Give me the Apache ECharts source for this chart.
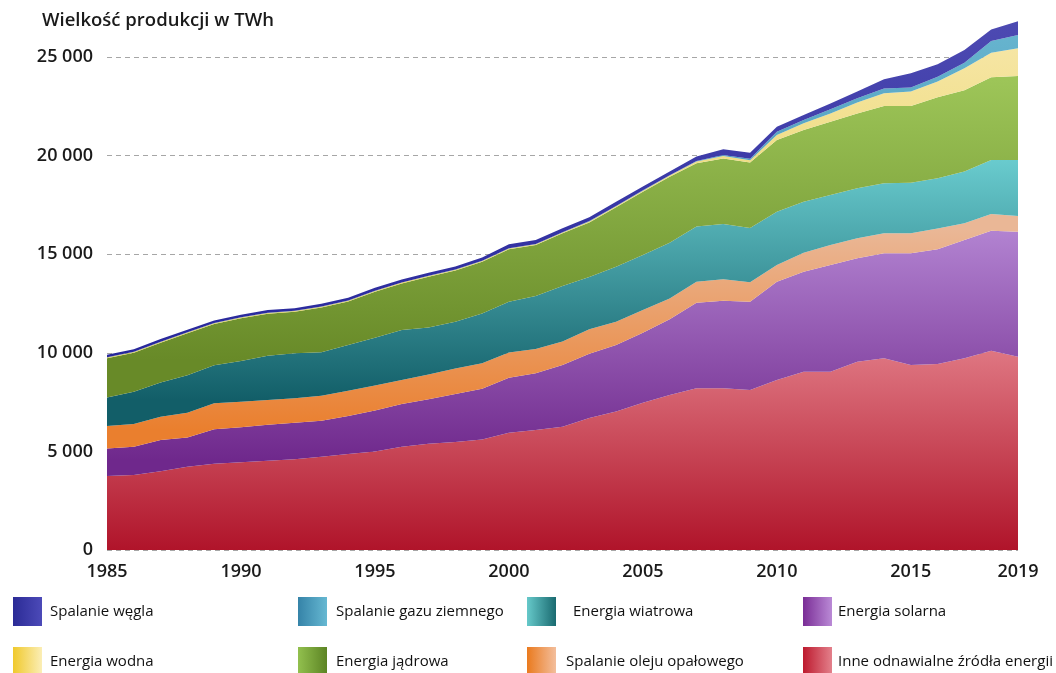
<!DOCTYPE html>
<html lang="pl">
<head>
<meta charset="utf-8">
<title>Wielkość produkcji energii elektrycznej</title>
<script src="https://cdn.jsdelivr.net/npm/echarts@6/dist/echarts.min.js"></script>
<style>
  html, body { margin: 0; padding: 0; background: #ffffff; }
  #chart { width: 1056px; height: 673px; }
</style>
</head>
<body>
<div id="chart"></div>
<script>
// Lata na osi X
const years = ['1985','1986','1987','1988','1989','1990','1991','1992','1993','1994',
  '1995','1996','1997','1998','1999','2000','2001','2002','2003','2004',
  '2005','2006','2007','2008','2009','2010','2011','2012','2013','2014',
  '2015','2016','2017','2018','2019'];

// Produkcja wg źródła (TWh), warstwy od dołu do góry
const inne = [3750,3800,4000,4220,4380,4450,4520,4600,4730,4870,
  5000,5240,5390,5480,5610,5950,6090,6250,6700,7020,
  7470,7860,8200,8200,8110,8620,9040,9040,9550,9720,
  9380,9430,9720,10110,9800];
const solarna = [1400,1440,1580,1490,1740,1770,1830,1850,1820,1930,
  2080,2160,2260,2430,2570,2790,2870,3130,3250,3380,
  3550,3840,4340,4440,4480,4990,5070,5410,5240,5330,
  5670,5820,6000,6080,6340];
const olej = [1140,1150,1180,1250,1320,1300,1260,1250,1270,1280,
  1260,1220,1250,1300,1290,1270,1230,1200,1250,1180,
  1150,1060,1070,1090,990,840,970,1020,1020,1010,
  1010,1060,850,850,800];
const wiatrowa = [1450,1640,1730,1900,1930,2060,2240,2280,2210,2320,
  2430,2540,2380,2370,2530,2580,2690,2810,2640,2790,
  2790,2820,2790,2800,2750,2710,2580,2530,2530,2540,
  2570,2540,2620,2740,2840];
const jadrowa = [1980,1970,2020,2130,2090,2170,2130,2100,2270,2200,
  2330,2360,2580,2590,2620,2660,2590,2670,2770,3010,
  3210,3350,3210,3330,3320,3630,3640,3720,3800,3920,
  3890,4110,4130,4190,4260];
const wodna = [40,40,40,40,40,40,40,40,40,40,
  40,40,40,40,40,40,40,40,50,50,
  50,60,90,120,110,250,340,420,550,640,
  730,800,1110,1250,1400];
const gaz = [10,10,10,10,10,10,10,10,10,10,
  10,10,10,10,10,10,10,10,20,20,
  20,20,30,50,80,170,170,210,220,250,
  200,240,280,590,680];
const wegiel = [130,130,135,135,135,135,135,135,135,140,
  145,145,150,155,170,200,200,210,190,210,
  190,180,220,290,300,260,250,300,340,460,
  730,630,650,590,690];

// Tytuł osi i etykiety serii
const axisTitle = 'Wielkość produkcji w TWh';
const names = {
  inne: 'Inne odnawialne źródła energii',
  solarna: 'Energia solarna',
  olej: 'Spalanie oleju opałowego',
  wiatrowa: 'Energia wiatrowa',
  jadrowa: 'Energia jądrowa',
  wodna: 'Energia wodna',
  gaz: 'Spalanie gazu ziemnego',
  wegiel: 'Spalanie węgla'
};

const chart = echarts.init(document.getElementById('chart'), null, { renderer: 'canvas' });
const G = echarts.graphic.LinearGradient;

// Pionowy gradient w układzie współrzędnych płótna: jaśniej u góry, ciemniej u dołu
function vgrad(yTop, yBot, cTop, cBot) {
  return new G(0, yTop, 0, yBot, [{ offset: 0, color: cTop }, { offset: 1, color: cBot }], true);
}
function hgrad(cLeft, cRight) {
  return new G(0, 0, 1, 0, [{ offset: 0, color: cLeft }, { offset: 1, color: cRight }]);
}

const layers = [
  { key: 'inne',     data: inne,     fill: vgrad(350, 550, '#df7782', '#b0142a') },
  { key: 'solarna',  data: solarna,  fill: vgrad(230, 460, '#b283d1', '#6f288c') },
  { key: 'olej',     data: olej,     fill: vgrad(230, 430, '#eab796', '#ea7f2e') },
  { key: 'wiatrowa', data: wiatrowa, fill: vgrad(160, 400, '#69cbce', '#125e68') },
  { key: 'jadrowa',  data: jadrowa,  fill: vgrad(80, 360, '#9dc558', '#688a28') },
  { key: 'wodna',    data: wodna,    fill: vgrad(40, 360, '#f6e6a6', '#e6d050') },
  { key: 'gaz',      data: gaz,      fill: vgrad(20, 360, '#68b6d0', '#3a86ac') },
  { key: 'wegiel',   data: wegiel,   fill: vgrad(20, 360, '#4d4ab2', '#26269a') }
];

const series = layers.map(l => ({
  name: names[l.key],
  type: 'line',
  stack: 'produkcja',
  data: l.data,
  symbol: 'none',
  smooth: false,
  lineStyle: { width: 0, opacity: 0 },
  areaStyle: { color: l.fill, opacity: 1 },
  emphasis: { disabled: true },
  silent: true
}));

// Legenda: dwa wiersze po cztery pozycje
const legendItems = [
  { key: 'wegiel',   icon: hgrad('#2b2b96', '#4c4ab8'), ix: 13,  tx: 50,  row: 0 },
  { key: 'gaz',      icon: hgrad('#3583a8', '#66b8d2'), ix: 298, tx: 336, row: 0 },
  { key: 'wiatrowa', icon: hgrad('#66c9ca', '#1a6a70'), ix: 527, tx: 573, row: 0 },
  { key: 'solarna',  icon: hgrad('#7a2d96', '#ba8ad6'), ix: 803, tx: 838, row: 0 },
  { key: 'wodna',    icon: hgrad('#f0c92c', '#fbeeb6'), ix: 13,  tx: 50,  row: 1 },
  { key: 'jadrowa',  icon: hgrad('#92c04e', '#5c8424'), ix: 298, tx: 336, row: 1 },
  { key: 'olej',     icon: hgrad('#ea7a1e', '#f3be9c'), ix: 527, tx: 566, row: 1 },
  { key: 'inne',     icon: hgrad('#bd1a2e', '#e3808b'), ix: 803, tx: 838, row: 1 }
];
const rowY = [597, 647];
const legendGraphics = [];
legendItems.forEach(it => {
  legendGraphics.push({
    type: 'rect',
    shape: { x: it.ix, y: rowY[it.row], width: 29, height: 29 },
    style: { fill: it.icon },
    silent: true
  });
  legendGraphics.push({
    type: 'text',
    x: it.tx,
    y: rowY[it.row] + 14.5,
    style: {
      text: names[it.key],
      font: '500 15px "Open Sans", sans-serif',
      fill: '#111111',
      textVerticalAlign: 'middle'
    },
    silent: true
  });
});

chart.setOption({
  animation: false,
  backgroundColor: '#ffffff',
  grid: { left: 107, right: 38, top: 17.6, bottom: 123, containLabel: false },
  xAxis: {
    type: 'category',
    data: years,
    boundaryGap: false,
    axisLine: { show: false },
    axisTick: { show: false },
    splitLine: { show: false },
    axisLabel: {
      interval: (idx) => idx % 5 === 0 || idx === years.length - 1,
      margin: 13,
      color: '#1a1a1a',
      fontFamily: '"Open Sans", sans-serif',
      fontSize: 18,
      fontWeight: 600
    }
  },
  yAxis: {
    type: 'value',
    min: 0,
    max: 27000,
    interval: 5000,
    z: 3,
    axisLine: { show: false },
    axisTick: { show: false },
    axisLabel: {
      showMaxLabel: false,
      margin: 14,
      color: '#1a1a1a',
      fontFamily: '"Open Sans", sans-serif',
      fontSize: 18,
      fontWeight: 600,
      formatter: v => v === 0 ? '0' : (v / 1000) + ' 000'
    },
    splitLine: {
      show: true,
      showMaxLine: false,
      lineStyle: { color: 'rgba(150,150,150,0.85)', type: [5, 4], width: 1 }
    }
  },
  series: series,
  graphic: [
    {
      type: 'text',
      x: 42,
      y: 21,
      style: {
        text: axisTitle,
        font: '600 18.5px "Open Sans", sans-serif',
        fill: '#1a1a1a',
        textVerticalAlign: 'middle'
      },
      silent: true
    }
  ].concat(legendGraphics)
});
</script>
</body>
</html>
